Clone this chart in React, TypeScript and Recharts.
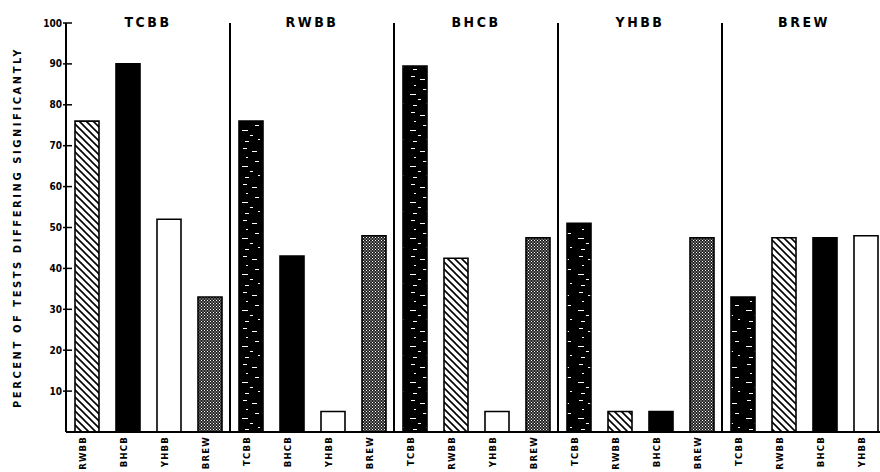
import React from 'react';
import { BarChart, Bar, XAxis, YAxis, Cell, ReferenceLine, ReferenceArea } from 'recharts';

const groups = ['TCBB', 'RWBB', 'BHCB', 'YHBB', 'BREW'];
const tcbbComp = ['RWBB', 'BHCB', 'YHBB', 'BREW'];
const tcbbVals = [76, 90, 52, 33];
const rwbbComp = ['TCBB', 'BHCB', 'YHBB', 'BREW'];
const rwbbVals = [76, 43, 5, 48];
const bhcbComp = ['TCBB', 'RWBB', 'YHBB', 'BREW'];
const bhcbVals = [89.5, 42.5, 5, 47.5];
const yhbbComp = ['TCBB', 'RWBB', 'BHCB', 'BREW'];
const yhbbVals = [51, 5, 5, 47.5];
const brewComp = ['TCBB', 'RWBB', 'BHCB', 'YHBB'];
const brewVals = [33, 47.5, 47.5, 48];
const yTicks = [10, 20, 30, 40, 50, 60, 70, 80, 90, 100];
const yLabel = 'PERCENT OF TESTS DIFFERING SIGNIFICANTLY';

const comps = [tcbbComp, rwbbComp, bhcbComp, yhbbComp, brewComp];
const vals = [tcbbVals, rwbbVals, bhcbVals, yhbbVals, brewVals];

const data = groups.flatMap((g, gi) =>
  comps[gi].map((c, ci) => ({ key: `${g}-${c}`, group: g, comp: c, value: vals[gi][ci] }))
);

const fillFor: Record<string, string> = {
  TCBB: 'url(#speckle)',
  RWBB: 'url(#hatch)',
  BHCB: '#000',
  YHBB: '#fff',
  BREW: 'url(#dots)',
};

const FONT = '"DejaVu Sans Condensed", "DejaVu Sans", sans-serif';

const XTick = (props: any) => {
  const { x, y, payload } = props;
  const comp = String(payload.value).split('-')[1];
  const tx = x - 4;
  const ty = y - 4;
  return (
    <text
      x={tx}
      y={ty}
      transform={`rotate(-90, ${tx}, ${ty})`}
      textAnchor="end"
      dy="0.36em"
      fontFamily={FONT}
      fontWeight="bold"
      fontSize={9.5}
      letterSpacing={1.2}
      fill="#000"
    >
      {comp}
    </text>
  );
};

const YTick = (props: any) => {
  const { x, y, payload } = props;
  return (
    <g>
      <line x1={x + 1} x2={x + 10} y1={y} y2={y} stroke="#000" strokeWidth={1.5} />
      <text
        x={x}
        y={y}
        dy="0.35em"
        textAnchor="end"
        fontFamily={FONT}
        fontWeight="bold"
        fontSize={10}
        fill="#000"
      >
        {payload.value}
      </text>
    </g>
  );
};

const YLabel = (props: any) => {
  const { viewBox } = props;
  const cy = viewBox.y + viewBox.height / 2;
  const cx = 17;
  return (
    <text
      x={cx}
      y={cy}
      transform={`rotate(-90, ${cx}, ${cy})`}
      textAnchor="middle"
      dy="0.36em"
      fontFamily={FONT}
      fontWeight="bold"
      fontSize={11}
      letterSpacing={2.6}
      fill="#000"
    >
      {yLabel}
    </text>
  );
};

export default function App() {
  return (
    <div style={{ position: 'absolute', left: 0, top: 0, width: 880, height: 472, overflow: 'hidden', background: '#fff' }}>
      <BarChart width={900} height={472} data={data} margin={{ top: 23, right: 14, bottom: 0, left: 0 }}>
        <defs>
          <pattern id="hatch" patternUnits="userSpaceOnUse" width="7" height="7">
            <rect width="7" height="7" fill="#fff" />
            <path d="M-1,-1 L8,8 M-1,6 L1,8 M6,-1 L8,1" stroke="#000" strokeWidth="1.6" />
          </pattern>
          <pattern id="dots" patternUnits="userSpaceOnUse" width="3" height="3">
            <rect width="3" height="3" fill="#222" />
            <rect x="0" y="0" width="1" height="1" fill="#fff" />
            <rect x="1.5" y="1.5" width="1" height="1" fill="#fff" />
          </pattern>
          <pattern id="speckle" patternUnits="userSpaceOnUse" width="24" height="36">
            <rect width="24" height="36" fill="#000" />
            <rect x="3" y="4" width="4" height="1" fill="#fff" />
            <rect x="12" y="7" width="5" height="1" fill="#fff" />
            <rect x="6" y="13" width="2" height="1" fill="#fff" />
            <rect x="15" y="17" width="4" height="1" fill="#fff" />
            <rect x="2" y="22" width="6" height="1" fill="#fff" />
            <rect x="10" y="27" width="3" height="1" fill="#fff" />
            <rect x="18" y="31" width="2" height="1" fill="#fff" />
            <rect x="5" y="33" width="4" height="1" fill="#fff" />
          </pattern>
        </defs>
        <XAxis
          dataKey="key"
          height={40}
          interval={0}
          tick={<XTick />}
          tickLine={false}
          axisLine={{ stroke: '#000', strokeWidth: 2 }}
        />
        <YAxis
          width={66}
          domain={[0, 100]}
          ticks={yTicks}
          tick={<YTick />}
          tickLine={false}
          tickSize={0}
          tickMargin={4}
          axisLine={{ stroke: '#000', strokeWidth: 2 }}
          label={<YLabel />}
        />
        {groups.slice(1).map((g, gi) => (
          <ReferenceLine
            key={g}
            x={data[(gi + 1) * 4].key}
            position="start"
            stroke="#000"
            strokeWidth={2}
          />
        ))}
        {groups.map((g, gi) => (
          <ReferenceArea
            key={`area-${g}`}
            x1={data[gi * 4].key}
            x2={data[gi * 4 + 3].key}
            fill="none"
            stroke="none"
            label={{
              value: g,
              position: 'top',
              offset: -4,
              fontFamily: FONT,
              fontWeight: 'bold',
              fontSize: 14,
              letterSpacing: 2.5,
              fill: '#000',
            }}
          />
        ))}
        <Bar dataKey="value" barSize={24} stroke="#000" strokeWidth={1.6} isAnimationActive={false}>
          {data.map((d) => (
            <Cell key={d.key} fill={fillFor[d.comp]} />
          ))}
        </Bar>
      </BarChart>
    </div>
  );
}
